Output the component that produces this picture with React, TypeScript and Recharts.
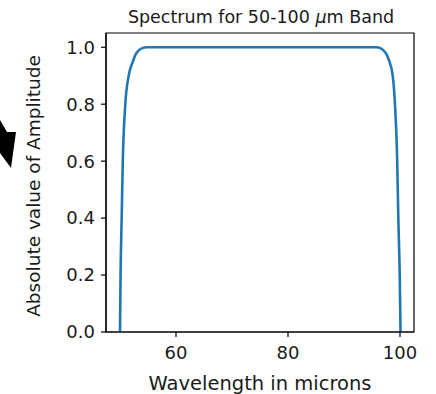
import { LineChart, Line, XAxis, YAxis, ReferenceArea } from "recharts";

const FONT = "'DejaVu Sans', sans-serif";

// band edges (wavelength in microns, |amplitude|)
const wavelength = [50, 50.1, 50.3, 50.5, 50.95, 51.55, 52.3, 52.8, 53.4, 54, 54.8, 60, 70, 80, 90, 95.8, 96.5, 97.0, 97.6, 98.1, 98.7, 99.1, 99.5, 99.7, 99.95, 100.1];
const amplitude = [0, 0.2, 0.4, 0.6, 0.8, 0.9, 0.95, 0.975, 0.99, 0.997, 1.0, 1.0, 1.0, 1.0, 1.0, 1.0, 0.997, 0.99, 0.975, 0.95, 0.9, 0.8, 0.6, 0.4, 0.2, 0];

const xTicks = [60, 80, 100];
const yTicks = [0, 0.2, 0.4, 0.6, 0.8, 1.0];
const xDomain: [number, number] = [47.5, 102.5];
const yDomain: [number, number] = [0, 1.05];

const data = wavelength.map((w, i) => ({ w, a: amplitude[i] }));

const tickStyle = { fill: "#1a1a1a", fontSize: 18, fontFamily: FONT };

export default function App() {
  return (
    <div style={{ position: "absolute", left: 0, top: 0, width: 436, height: 394, background: "#fff" }}>
      <LineChart width={436} height={394} data={data} margin={{ top: 33, right: 22, bottom: 0, left: 0 }}>
        <XAxis
          dataKey="w"
          type="number"
          domain={xDomain}
          ticks={xTicks}
          allowDataOverflow
          height={62}
          tick={tickStyle}
          tickSize={5}
          tickMargin={9}
          axisLine={{ stroke: "#000", strokeWidth: 1.2 }}
          tickLine={{ stroke: "#000", strokeWidth: 1.2 }}
        />
        <YAxis
          type="number"
          domain={yDomain}
          ticks={yTicks}
          allowDataOverflow
          width={106}
          tick={tickStyle}
          tickSize={5}
          tickMargin={6}
          tickFormatter={(v: number) => v.toFixed(1)}
          axisLine={{ stroke: "#000", strokeWidth: 1.2 }}
          tickLine={{ stroke: "#000", strokeWidth: 1.2 }}
        />
        {/* plot frame */}
        <ReferenceArea
          x1={xDomain[0]}
          x2={xDomain[1]}
          y1={yDomain[0]}
          y2={yDomain[1]}
          fill="none"
          fillOpacity={0}
          stroke="#000"
          strokeWidth={1.2}
          strokeOpacity={1}
          ifOverflow="visible"
        />
        <Line type="monotone" dataKey="a" stroke="#1f77b4" strokeWidth={2.6} dot={false} isAnimationActive={false} />
      </LineChart>
      <svg width={436} height={394} style={{ position: "absolute", left: 0, top: 0, pointerEvents: "none" }}>
        <text x={261} y={23} textAnchor="middle" fontSize={17.5} fontFamily={FONT} fill="#1a1a1a">
          Spectrum for 50-100 <tspan fontStyle="italic">μ</tspan>m Band
        </text>
        <text x={260} y={390} textAnchor="middle" fontSize={19.5} fontFamily={FONT} fill="#1a1a1a">
          Wavelength in microns
        </text>
        <text x={40} y={186} transform="rotate(-90 40 186)" textAnchor="middle" fontSize={18.5} fontFamily={FONT} fill="#1a1a1a">
          Absolute value of Amplitude
        </text>
        <polygon points="0,120 7,132 16,132 11,168 0,153" fill="#000" />
      </svg>
    </div>
  );
}
